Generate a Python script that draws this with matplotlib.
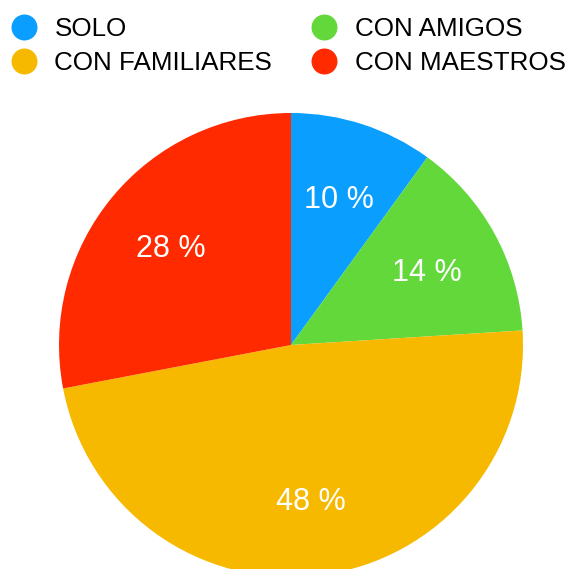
import matplotlib.pyplot as plt
from matplotlib.lines import Line2D

plt.rcParams['font.family'] = ['Liberation Sans', 'DejaVu Sans']

labels = ["SOLO", "CON AMIGOS", "CON FAMILIARES", "CON MAESTROS"]
values = [10, 14, 48, 28]
colors = ["#0A9FFF", "#62D83A", "#F7B900", "#FF2A00"]

W, H = 572, 569
fig = plt.figure(figsize=(W / 100, H / 100), dpi=100)
ax = fig.add_axes([0, 0, 1, 1])

wedges, texts, autotexts = ax.pie(
    values, colors=colors, startangle=90, counterclock=False,
    center=(291, H - 345), radius=232,
    autopct=lambda p: f"{p:.0f} %", pctdistance=0.67,
    textprops=dict(color="white", fontsize=22),
    wedgeprops=dict(linewidth=0),
)
# labels sit a little lower in the original
for t in autotexts:
    t.set_y(t.get_position()[1] - 3)

ax.set_xlim(0, W)
ax.set_ylim(0, H)
ax.set_aspect("equal")
ax.axis("off")

# legend, filled column by column
order = [0, 2, 1, 3]
handles = [Line2D([], [], marker="o", linestyle="none", markersize=18.7,
                  markerfacecolor=colors[i], markeredgewidth=0) for i in order]
ax.legend(handles, [labels[i] for i in order], ncol=2, frameon=False,
          loc="upper left", bbox_to_anchor=(10.8 / W, 1 - 17.5 / H),
          bbox_transform=fig.transFigure, fontsize=18.7,
          handlelength=1.0, handletextpad=0.68, columnspacing=1.5,
          labelspacing=0.38, borderpad=0, borderaxespad=0)

fig.savefig("out.png", dpi=100)
